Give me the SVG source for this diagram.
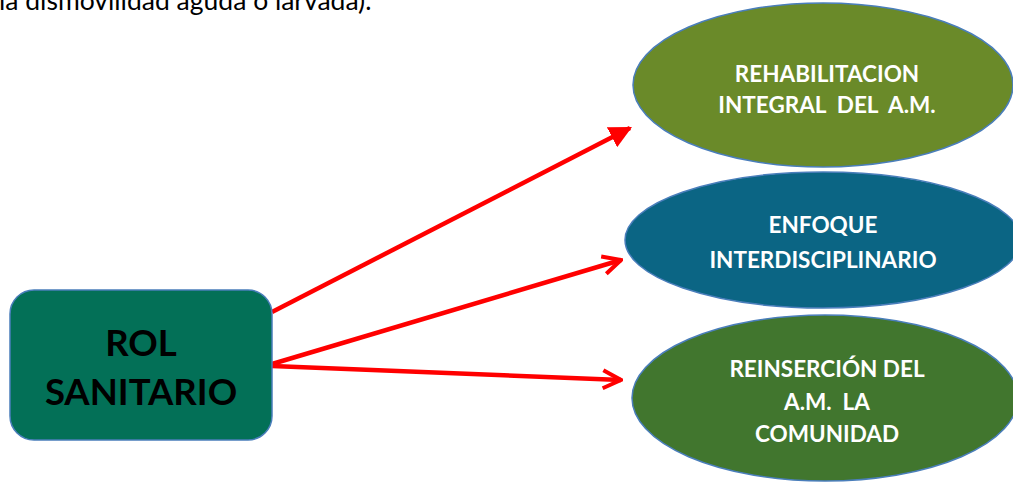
<svg xmlns="http://www.w3.org/2000/svg" width="1013" height="483" viewBox="0 0 1013 483">
<defs>
<style>
.t{font-family:Lato,"Open Sans","Liberation Sans",sans-serif;font-weight:bold;fill:#fff;text-anchor:middle;font-size:22.5px}
.node{stroke:#4A7EBB;stroke-width:1.5}
.c{stroke:#FF0000;stroke-width:4.5;fill:none}
</style>
<marker id="tri" viewBox="0 0 10 10" refX="9" refY="5" markerWidth="5" markerHeight="5" markerUnits="strokeWidth" orient="auto"><path d="M0,0 L10,5 L0,10 z" fill="#FF0000"/></marker>
<marker id="chev" viewBox="0 0 10 10" refX="9" refY="5" markerWidth="5" markerHeight="5" markerUnits="strokeWidth" orient="auto"><path d="M1,1 L9,5 L1,9" fill="none" stroke="#FF0000" stroke-width="1.8"/></marker>
</defs>
<rect width="1013" height="483" fill="#fff"/>
<text x="-1" y="10" font-family="Lato,'Open Sans','Liberation Sans',sans-serif" font-size="26.5" fill="#000">la dismovilidad aguda o larvada).</text>
<g id="connectors">
<line class="c" x1="272" y1="312" x2="630" y2="128" marker-end="url(#tri)"/>
<line class="c" x1="272" y1="364" x2="621" y2="260" marker-end="url(#chev)"/>
<line class="c" x1="272" y1="366" x2="621" y2="380" marker-end="url(#chev)"/>
</g>
<g id="rol">
<rect class="node" x="10" y="290" width="262" height="150" rx="24" fill="#037057"/>
<text x="141" y="356" font-family="Lato,'Open Sans','Liberation Sans',sans-serif" font-weight="bold" font-size="36.5" text-anchor="middle" fill="#000">ROL</text>
<text x="141" y="405" font-family="Lato,'Open Sans','Liberation Sans',sans-serif" font-weight="bold" font-size="36.5" text-anchor="middle" fill="#000">SANITARIO</text>
</g>
<g id="rehabilitacion">
<ellipse class="node" cx="823" cy="85" rx="190" ry="82" fill="#6A8A29"/>
<text class="t" x="827" y="82">REHABILITACION</text>
<text class="t" x="827" y="113" xml:space="preserve">INTEGRAL  DEL  A.M.</text>
</g>
<g id="enfoque">
<ellipse class="node" cx="823" cy="240" rx="198" ry="68" fill="#0B6584"/>
<text class="t" x="823" y="233">ENFOQUE</text>
<text class="t" x="823" y="268">INTERDISCIPLINARIO</text>
</g>
<g id="reinsercion">
<ellipse class="node" cx="825" cy="398" rx="193" ry="83" fill="#41762E"/>
<text class="t" x="827" y="377">REINSERCIÓN DEL</text>
<text class="t" x="827" y="410" xml:space="preserve">A.M.  LA</text>
<text class="t" x="827" y="442">COMUNIDAD</text>
</g>
</svg>
